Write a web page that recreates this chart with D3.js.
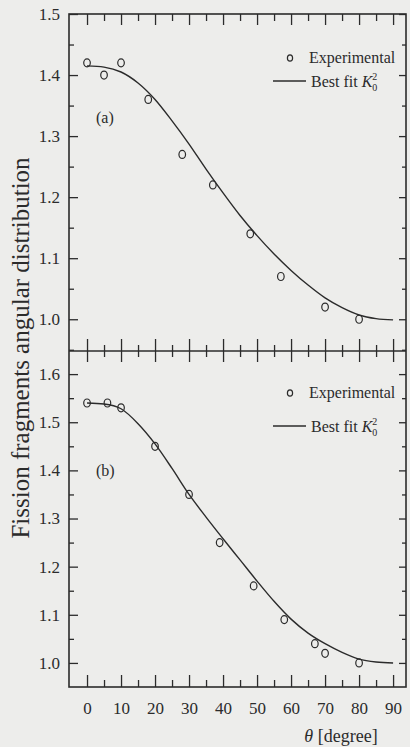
<!DOCTYPE html>
<html lang="en">
<head>
<meta charset="utf-8">
<style>
  body { margin: 0; background: #ededeb; }
  svg { display: block; }
  text { font-family: "Liberation Serif", "DejaVu Serif", serif; fill: #2b2b2b; }
  .tick line { stroke: #2b2b2b; stroke-width: 1.3px; }
  .tick text { font-size: 17px; }
</style>
</head>
<body>
<svg width="410" height="747"></svg>
<script src="https://d3js.org/d3.v7.min.js"></script>
<script>
// panel (a)
var angA   = [0, 5, 10, 18, 28, 37, 48, 57, 70, 80];
var expA   = [1.42, 1.40, 1.42, 1.36, 1.27, 1.22, 1.14, 1.07, 1.02, 1.00];
var fitAngA = [0, 5, 10, 15, 20, 25, 30, 35, 40, 45, 50, 55, 60, 65, 70, 75, 80, 85, 90];
var fitA   = [1.415, 1.413, 1.405, 1.387, 1.36, 1.325, 1.287, 1.246, 1.207, 1.17, 1.137, 1.107, 1.08, 1.056, 1.035, 1.019, 1.007, 1.001, 0.999];

// panel (b)
var angB   = [0, 6, 10, 20, 30, 39, 49, 58, 67, 70, 80];
var expB   = [1.54, 1.54, 1.53, 1.45, 1.35, 1.25, 1.16, 1.09, 1.04, 1.02, 1.00];
var fitAngB = [0, 5, 10, 15, 20, 25, 30, 35, 40, 45, 50, 55, 60, 65, 70, 75, 80, 85, 90];
var fitB   = [1.54, 1.538, 1.528, 1.497, 1.455, 1.404, 1.35, 1.303, 1.258, 1.214, 1.17, 1.128, 1.091, 1.062, 1.04, 1.022, 1.008, 1.002, 1.0];

var xMajor = [0, 10, 20, 30, 40, 50, 60, 70, 80, 90];
var xMinor = [5, 15, 25, 35, 45, 55, 65, 75, 85];
var yTicksA = [1.0, 1.1, 1.2, 1.3, 1.4, 1.5];
var yMinorA = [0.95, 1.05, 1.15, 1.25, 1.35, 1.45];
var yTicksB = [1.0, 1.1, 1.2, 1.3, 1.4, 1.5, 1.6];
var yMinorB = [1.05, 1.15, 1.25, 1.35, 1.45, 1.55];

var svg = d3.select("svg");
var L = 69, R = 406, T = 14, M = 351, B = 687;
var ink = "#2b2b2b";

var x = d3.scaleLinear().domain([-5.3, 93.8]).range([L, R]);
var yA = d3.scaleLinear().domain([0.948, 1.5]).range([M, T]);
var yB = d3.scaleLinear().domain([0.95, 1.648]).range([B, M]);

function axisAt(gen, tx, ty) {
  var g = svg.append("g").attr("transform", "translate(" + tx + "," + ty + ")").call(gen);
  g.select(".domain").remove();
  return g;
}

// x ticks: top, middle (crossing), bottom
axisAt(d3.axisTop(x).tickValues(xMajor).tickSize(-11).tickFormat(""), 0, T);
axisAt(d3.axisTop(x).tickValues(xMinor).tickSize(-7).tickFormat(""), 0, T);
axisAt(d3.axisTop(x).tickValues(xMajor).tickSize(12).tickFormat(""), 0, M);
axisAt(d3.axisTop(x).tickValues(xMinor).tickSize(6).tickFormat(""), 0, M);
axisAt(d3.axisBottom(x).tickValues(xMajor).tickSize(11).tickFormat(""), 0, M);
axisAt(d3.axisBottom(x).tickValues(xMinor).tickSize(6).tickFormat(""), 0, M);
axisAt(d3.axisBottom(x).tickValues(xMajor).tickSize(-12).tickPadding(15).tickFormat(d3.format("d")), 0, B);
axisAt(d3.axisBottom(x).tickValues(xMinor).tickSize(-7).tickFormat(""), 0, B);

// y ticks for both panels
[[yA, yTicksA, yMinorA], [yB, yTicksB, yMinorB]].forEach(function (p) {
  axisAt(d3.axisLeft(p[0]).tickValues(p[1]).tickSize(-9).tickPadding(9).tickFormat(d3.format(".1f")), L, 0);
  axisAt(d3.axisLeft(p[0]).tickValues(p[2]).tickSize(-5).tickFormat(""), L, 0);
  axisAt(d3.axisRight(p[0]).tickValues(p[1]).tickSize(-7).tickFormat(""), R, 0);
  axisAt(d3.axisRight(p[0]).tickValues(p[2]).tickSize(-4).tickFormat(""), R, 0);
});

// frames
svg.append("rect").attr("x", L).attr("y", T).attr("width", R - L).attr("height", B - T)
  .attr("fill", "none").attr("stroke", ink).attr("stroke-width", 1.6);
svg.append("line").attr("x1", L).attr("x2", R).attr("y1", M).attr("y2", M)
  .attr("stroke", ink).attr("stroke-width", 1.6);

function panel(y, ang, exp, fitAng, fit) {
  var pts = fitAng.map(function (a, i) { return [a, fit[i]]; });
  svg.append("path").datum(pts)
    .attr("fill", "none").attr("stroke", ink).attr("stroke-width", 1.4)
    .attr("d", d3.line().x(function (d) { return x(d[0]); }).y(function (d) { return y(d[1]); }).curve(d3.curveMonotoneX));
  svg.append("g").selectAll("ellipse").data(ang).enter().append("ellipse")
    .attr("cx", function (d) { return x(d); })
    .attr("cy", function (d, i) { return y(exp[i]); })
    .attr("rx", 3.3).attr("ry", 4)
    .attr("fill", "none").attr("stroke", ink).attr("stroke-width", 1.2);
}
panel(yA, angA, expA, fitAngA, fitA);
panel(yB, angB, expB, fitAngB, fitB);

function legend(yExp, yFit) {
  svg.append("ellipse").attr("cx", 290).attr("cy", yExp).attr("rx", 2.6).attr("ry", 3.2)
    .attr("fill", "none").attr("stroke", ink).attr("stroke-width", 1.2);
  svg.append("text").attr("x", 309).attr("y", yExp + 5).style("font-size", "16px").text("Experimental");
  svg.append("line").attr("x1", 273).attr("x2", 306).attr("y1", yFit).attr("y2", yFit)
    .attr("stroke", ink).attr("stroke-width", 1.4);
  var t = svg.append("text").attr("x", 311).attr("y", yFit + 6).style("font-size", "16px");
  t.append("tspan").text("Best fit ");
  t.append("tspan").style("font-style", "italic").text("K");
  t.append("tspan").attr("dy", 4).style("font-size", "10px").text("0");
  t.append("tspan").attr("dx", -5).attr("dy", -11).style("font-size", "10px").text("2");
}
legend(58, 81);
legend(393, 426);

svg.append("text").attr("x", 96).attr("y", 123).style("font-size", "16px").text("(a)");
svg.append("text").attr("x", 96).attr("y", 476).style("font-size", "16px").text("(b)");

svg.append("text").attr("transform", "translate(29,348) rotate(-90)")
  .attr("text-anchor", "middle").style("font-size", "25px")
  .text("Fission fragments angular distribution");

var xt = svg.append("text").attr("x", 341).attr("y", 742).attr("text-anchor", "middle").style("font-size", "18px");
xt.append("tspan").style("font-style", "italic").text("θ");
xt.append("tspan").text(" [degree]");
</script>
</body>
</html>
